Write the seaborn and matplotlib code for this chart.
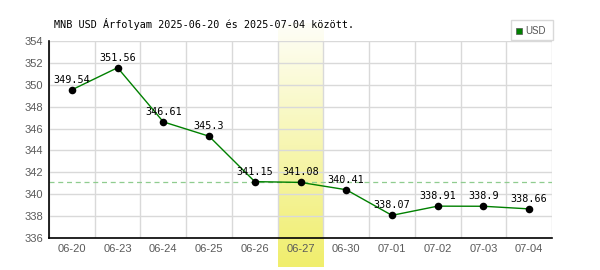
import matplotlib
matplotlib.use("Agg")
import matplotlib.pyplot as plt
import seaborn as sns
import numpy as np
import pandas as pd
from matplotlib.colors import LinearSegmentedColormap
from matplotlib.patches import Rectangle

dates = ["06-20", "06-23", "06-24", "06-25", "06-26", "06-27",
         "06-30", "07-01", "07-02", "07-03", "07-04"]
usd = [349.54, 351.56, 346.61, 345.3, 341.15, 341.08,
       340.41, 338.07, 338.91, 338.9, 338.66]
value_labels = ["349.54", "351.56", "346.61", "345.3", "341.15", "341.08",
                "340.41", "338.07", "338.91", "338.9", "338.66"]
highlight_index = 5
reference_value = 341.08
title = "MNB USD Árfolyam 2025-06-20 és 2025-07-04 között."

sns.set_theme(style="white")
plt.rcParams["font.family"] = ["DejaVu Sans"]

df = pd.DataFrame({"pos": np.arange(len(dates)), "usd": usd, "date": dates})

fig = plt.figure(figsize=(6, 2.7), dpi=100)
ax = fig.add_axes([49 / 600, 32 / 270, 503 / 600, 197 / 270])
ax.set_facecolor("white")

# highlight band (vertical gradient, white at top -> yellow at bottom)
grad = np.linspace(0, 1, 256).reshape(-1, 1)
cmap = LinearSegmentedColormap.from_list("band", ["#fefef8", "#f0ee6c"])
bx0 = highlight_index - 0.5
bx1 = highlight_index + 0.5
ppu = 197 / 18
y_top = 354 + (41 - 24) / ppu
y_bot = 336 - (267 - 238) / ppu
ax.imshow(grad, extent=[bx0, bx1, y_bot, y_top], cmap=cmap,
          aspect="auto", zorder=0, clip_on=False, origin="upper")

# grid
for i in range(len(dates) + 1):
    ax.axvline(i - 0.5, color="#d9d9d9", lw=1, zorder=1)
for yv in range(336, 356, 2):
    ax.axhline(yv, color="#d9d9d9", lw=1, zorder=1)

ax.axhline(reference_value, color="#8fcc8f", lw=0.9, ls=(0, (4, 3)), zorder=2)

sns.lineplot(data=df, x="pos", y="usd", color="#008000", lw=1, ax=ax, zorder=3)
sns.scatterplot(data=df, x="pos", y="usd", color="black", s=30, edgecolor="black",
                linewidth=0, ax=ax, zorder=4)

for x, y, t in zip(df["pos"], usd, value_labels):
    ax.text(x, y + 0.45, t, ha="center", va="bottom", fontsize=7.3,
            family="DejaVu Sans Mono", color="black", zorder=5)

ax.set_xlim(-0.5, len(dates) - 0.5)
ax.set_ylim(336, 354)
ax.set_xticks(df["pos"])
ax.set_xticklabels(dates)
ax.set_yticks(range(336, 356, 2))
ax.set_xlabel("")
ax.set_ylabel("")
ax.tick_params(axis="both", length=0, labelsize=8, colors="#5a5a5a", pad=4)
for lab in ax.get_xticklabels() + ax.get_yticklabels():
    lab.set_family("Liberation Sans")

for s in ["top", "right"]:
    ax.spines[s].set_visible(False)
for s in ["left", "bottom"]:
    ax.spines[s].set_color("black")
    ax.spines[s].set_linewidth(1.2)
    ax.spines[s].set_zorder(6)

fig.text(54 / 600, 1 - 24 / 270, title, ha="left", va="center", fontsize=7.3,
         family="DejaVu Sans Mono", color="black")

# legend box
fig.patches.append(Rectangle((511 / 600, 1 - 40 / 270), 42 / 600, 20 / 270,
                             transform=fig.transFigure, facecolor="white",
                             edgecolor="#d9d9d9", lw=1))
fig.patches.append(Rectangle((516 / 600, 1 - 34 / 270), 6 / 600, 6 / 270,
                             transform=fig.transFigure, facecolor="#008000",
                             edgecolor="#555555", lw=0.5))
fig.text(525 / 600, 1 - 31 / 270, "USD", ha="left", va="center", fontsize=7,
         family="Liberation Sans", color="#555555")

fig.savefig("out.png", dpi=100)
